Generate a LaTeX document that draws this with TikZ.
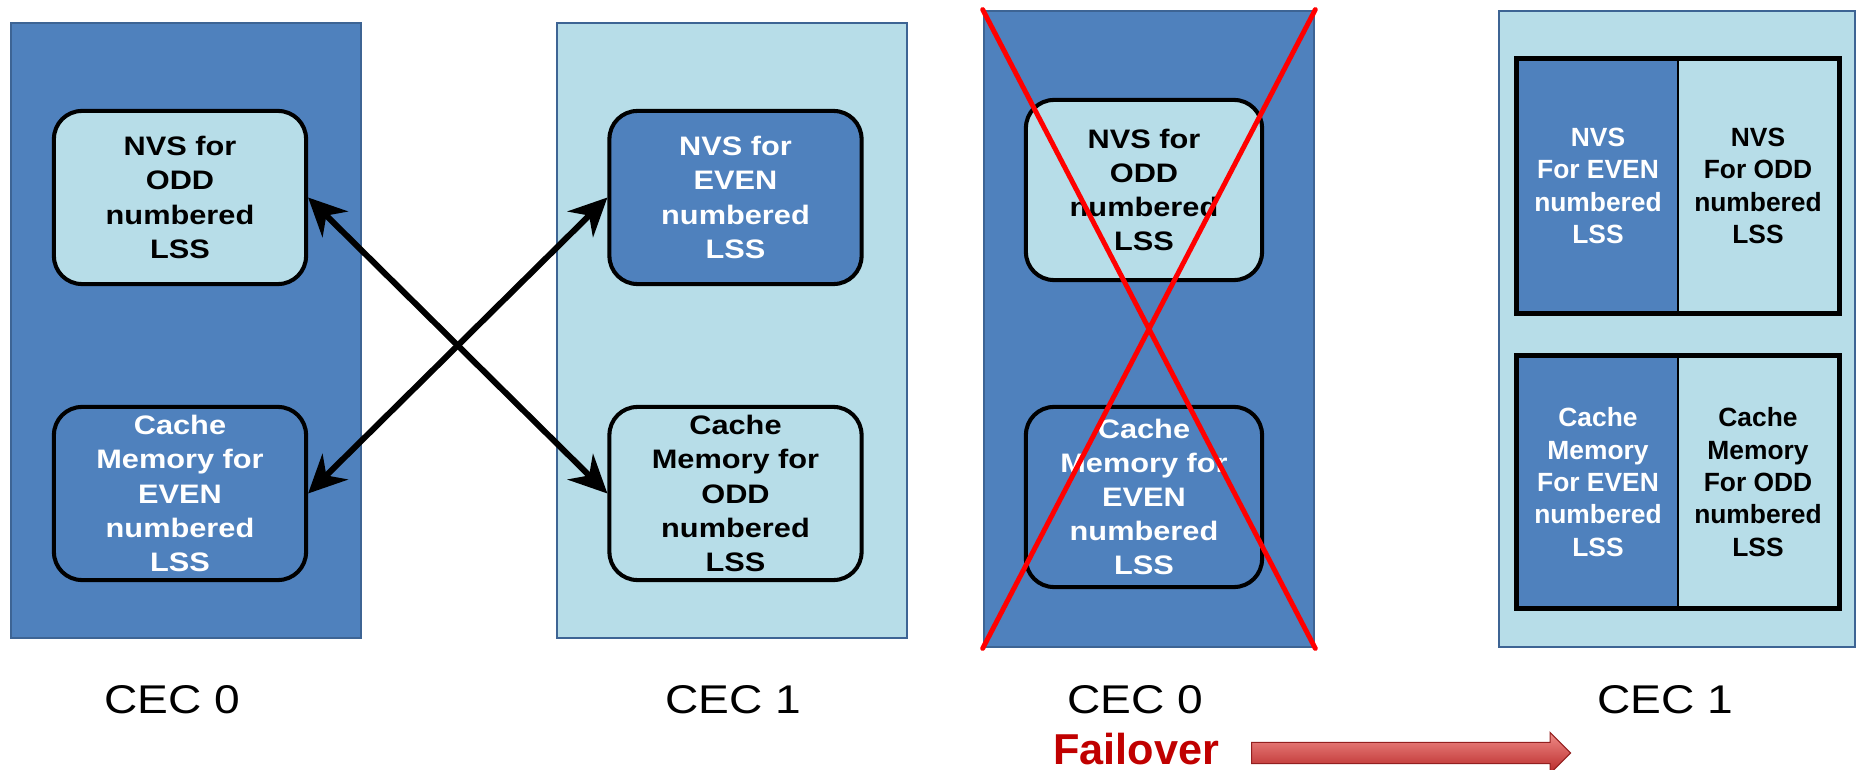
\documentclass[tikz,border=0pt]{standalone}
\usepackage{fontspec}
\setmainfont[FakeStretch=1.15]{Liberation Sans}
\newfontfamily\plainsans{Liberation Sans}
\usetikzlibrary{arrows.meta,shapes.arrows}
\definecolor{cecdark}{HTML}{4F81BD}
\definecolor{ceclight}{HTML}{B7DDE8}
\definecolor{cecedge}{HTML}{3D6494}
\definecolor{failred}{HTML}{C00000}
\definecolor{arrowtop}{HTML}{F08C88}
\definecolor{arrowbot}{HTML}{B82828}
\begin{document}
\begin{tikzpicture}[x=0.01cm,y=-0.01cm,
  panel/.style={draw=cecedge,line width=0.7pt,inner sep=0pt},
  dark/.style={fill=cecdark,text=white},
  light/.style={fill=ceclight,text=black},
  mem/.style={draw=black,line width=1.15pt,rounded corners=0.28cm,minimum width=2.52cm,minimum height=1.73cm,inner sep=0pt,align=center,font=\bfseries\fontsize{7.6}{9.7}\selectfont},
  half/.style={draw=black,line width=0.8pt,minimum width=1.6cm,inner sep=0pt,align=center,font=\plainsans\bfseries\fontsize{7.5}{9.2}\selectfont},
  frame/.style={draw=black,line width=1.45pt},
  cec/.style={font=\fontsize{11.4}{13}\selectfont},
  link/.style={line width=1.7pt,{Stealth[length=0.38cm,width=0.36cm]}-{Stealth[length=0.38cm,width=0.36cm]}},
  redcross/.style={draw=red,line width=1.4pt,line cap=round}]
\useasboundingbox (0,0) rectangle (1856,770);
\node[panel,dark,minimum width=3.5cm,minimum height=6.15cm] (cecA) at (186,330.5) {};
\node[panel,light,minimum width=3.5cm,minimum height=6.15cm] (cecB) at (732,330.5) {};
\node[panel,dark,minimum width=3.3cm,minimum height=6.36cm] (cecC) at (1149,329) {};
\node[panel,light,minimum width=3.56cm,minimum height=6.36cm] (cecD) at (1677,329) {};
\node[mem,light] (nvsOddA) at (180,197.5) {NVS for\\ODD\\numbered\\LSS};
\node[mem,dark] (cacheEvenA) at (180,493.5) {Cache\\Memory for\\EVEN\\numbered\\LSS};
\node[mem,dark] (nvsEvenB) at (735.5,197.5) {NVS for\\EVEN\\numbered\\LSS};
\node[mem,light] (cacheOddB) at (735.5,493.5) {Cache\\Memory for\\ODD\\numbered\\LSS};
\draw[link] (nvsOddA.east) -- (cacheOddB.west);
\draw[link] (nvsEvenB.west) -- (cacheEvenA.east);
\node[mem,light,minimum width=2.36cm,minimum height=1.8cm] (nvsOddC) at (1144,190) {NVS for\\ODD\\numbered\\LSS};
\node[mem,dark,minimum width=2.36cm,minimum height=1.8cm] (cacheEvenC) at (1144,497) {Cache\\Memory for\\EVEN\\numbered\\LSS};
\draw[redcross] (cecC.north west) -- (cecC.south east);
\draw[redcross] (cecC.north east) -- (cecC.south west);
\node[half,dark,minimum height=2.52cm] (nvsEvenD) at (1598,186) {NVS\\For EVEN\\numbered\\LSS};
\node[half,light,minimum height=2.52cm] (nvsOddD) at (1758,186) {NVS\\For ODD\\numbered\\LSS};
\draw[frame] (nvsEvenD.north west) rectangle (nvsOddD.south east);
\node[half,dark,minimum height=2.5cm] (cacheEvenD) at (1598,482) {Cache\\Memory\\For EVEN\\numbered\\LSS};
\node[half,light,minimum height=2.5cm] (cacheOddD) at (1758,482) {Cache\\Memory\\For ODD\\numbered\\LSS};
\draw[frame] (cacheEvenD.north west) rectangle (cacheOddD.south east);
\node[cec] (labA) at (172,700) {CEC 0};
\node[cec] (labB) at (733,700) {CEC 1};
\node[cec] (labC) at (1135,700) {CEC 0};
\node[cec] (labD) at (1665,700) {CEC 1};
\node[font=\plainsans\bfseries\fontsize{12.3}{14}\selectfont,text=failred] (failover) at (1136,749) {Failover};
\node[single arrow,anchor=tail,minimum height=3.19cm,inner xsep=0pt,inner ysep=0.1cm,single arrow head extend=0.1cm,top color=arrowtop,bottom color=arrowbot,draw=arrowbot!80!black,line width=0.3pt] (failarrow) at (1251,753) {};
\end{tikzpicture}
\end{document}
